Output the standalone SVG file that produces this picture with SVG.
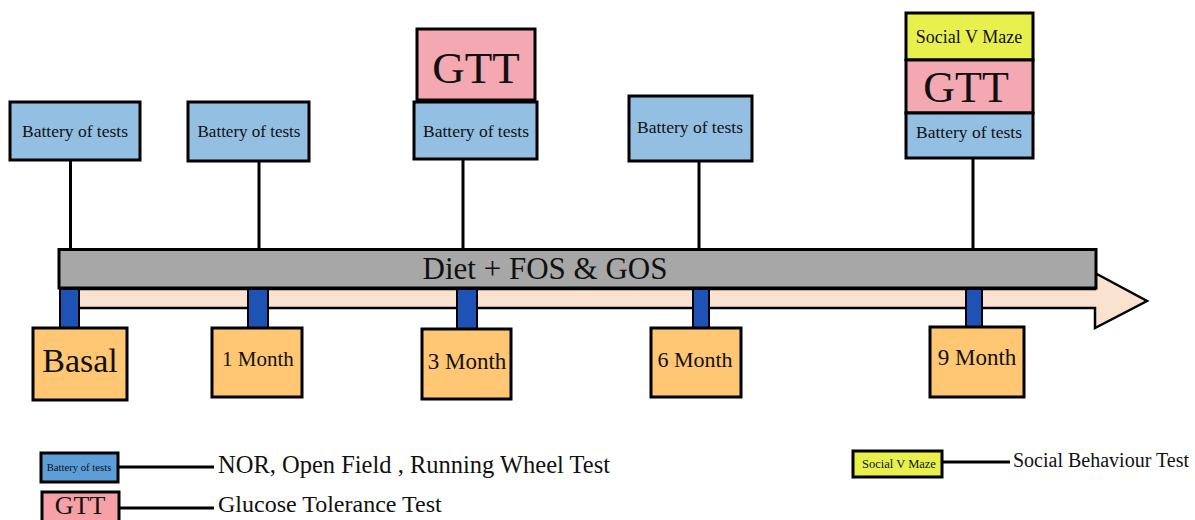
<svg xmlns="http://www.w3.org/2000/svg" width="1195" height="520" viewBox="0 0 1195 520">
<style>
text{font-family:"Liberation Serif","Times New Roman",serif;fill:#111;text-anchor:middle}
.b{stroke:#000;stroke-width:3}
.bat{fill:#93bfe2}
.gtt{fill:#f4a8b1}
.svm{fill:#e8f04e}
.mon{fill:#ffc674}
.con{fill:#1f52b5;stroke:#000;stroke-width:2}
.ln{stroke:#000;stroke-width:3;fill:none}
.lg{text-anchor:start}
</style>
<g id="connectors">
<line class="ln" x1="70.5" y1="160" x2="70.5" y2="250"/>
<line class="ln" x1="259" y1="161" x2="259" y2="250"/>
<line class="ln" x1="463" y1="159" x2="463" y2="250"/>
<line class="ln" x1="699" y1="161" x2="699" y2="250"/>
<line class="ln" x1="973" y1="158" x2="973" y2="250"/>
<line class="ln" x1="118" y1="467" x2="214" y2="467"/>
<line class="ln" x1="119" y1="508" x2="214" y2="508"/>
<line class="ln" x1="942" y1="462" x2="1010" y2="462"/>
</g>
<g id="arrow">
<polygon points="62,289 1095,289 1095,273 1147,301 1095,328 1095,308 62,308" fill="#fae2d1" stroke="#000" stroke-width="2.5" stroke-linejoin="miter"/>
</g>
<g id="diet-bar">
<rect class="b" x="59" y="249.5" width="1037" height="38.5" fill="#a7a7a7"/>
<text x="545" y="279" font-size="31">Diet + FOS &amp; GOS</text>
</g>
<g id="ticks">
<rect class="con" x="60" y="289" width="19" height="39"/>
<rect class="con" x="248" y="289" width="20" height="39"/>
<rect class="con" x="457" y="289" width="20" height="40"/>
<rect class="con" x="693" y="289" width="16" height="39"/>
<rect class="con" x="966" y="289" width="16" height="38"/>
</g>
<g id="top-basal">
<rect class="b bat" x="10" y="102" width="130" height="58"/>
<text x="75" y="137" font-size="17.5">Battery of tests</text>
</g>
<g id="top-1month">
<rect class="b bat" x="188" y="102" width="121" height="59"/>
<text x="249" y="137" font-size="17">Battery of tests</text>
</g>
<g id="top-3month">
<rect class="b gtt" x="417" y="29" width="118" height="71"/>
<text x="476" y="83" font-size="45">GTT</text>
<rect class="b bat" x="414" y="102" width="123" height="57"/>
<text x="476" y="137" font-size="17.5">Battery of tests</text>
</g>
<g id="top-6month">
<rect class="b bat" x="629" y="96" width="123" height="65"/>
<text x="690" y="133" font-size="17.5">Battery of tests</text>
</g>
<g id="top-9month">
<rect class="b svm" x="906" y="13" width="127" height="47"/>
<text x="969" y="43" font-size="18">Social V Maze</text>
<rect class="b gtt" x="906" y="60" width="127" height="53"/>
<text x="966" y="102" font-size="44">GTT</text>
<rect class="b bat" x="906" y="113" width="127" height="45"/>
<text x="969" y="138" font-size="17.5">Battery of tests</text>
</g>
<g id="basal">
<rect class="b mon" x="33" y="328" width="94" height="72"/>
<text x="80" y="372" font-size="34">Basal</text>
</g>
<g id="month1">
<rect class="b mon" x="212" y="328" width="90" height="69"/>
<text x="258" y="366" font-size="21">1 Month</text>
</g>
<g id="month3">
<rect class="b mon" x="422" y="329" width="89" height="70"/>
<text x="467" y="369" font-size="23">3 Month</text>
</g>
<g id="month6">
<rect class="b mon" x="651" y="328" width="90" height="69"/>
<text x="695" y="367" font-size="22">6 Month</text>
</g>
<g id="month9">
<rect class="b mon" x="930" y="327" width="94" height="70"/>
<text x="977" y="365" font-size="23">9 Month</text>
</g>
<g id="legend-battery">
<rect class="b" x="41" y="453" width="77" height="29" fill="#5d9ed8"/>
<text x="79" y="471" font-size="10.7">Battery of tests</text>
<text class="lg" x="218" y="473" font-size="24.5">NOR, Open Field , Running Wheel Test</text>
</g>
<g id="legend-gtt">
<rect class="b" x="42" y="492" width="77" height="32" fill="#f5a1a5"/>
<text x="80" y="514" font-size="26">GTT</text>
<text class="lg" x="218" y="512" font-size="24">Glucose Tolerance Test</text>
</g>
<g id="legend-svm">
<rect class="b svm" x="853" y="451" width="89" height="26"/>
<text x="899" y="468" font-size="12.5">Social V Maze</text>
<text class="lg" x="1013" y="467" font-size="20">Social Behaviour Test</text>
</g>
</svg>
